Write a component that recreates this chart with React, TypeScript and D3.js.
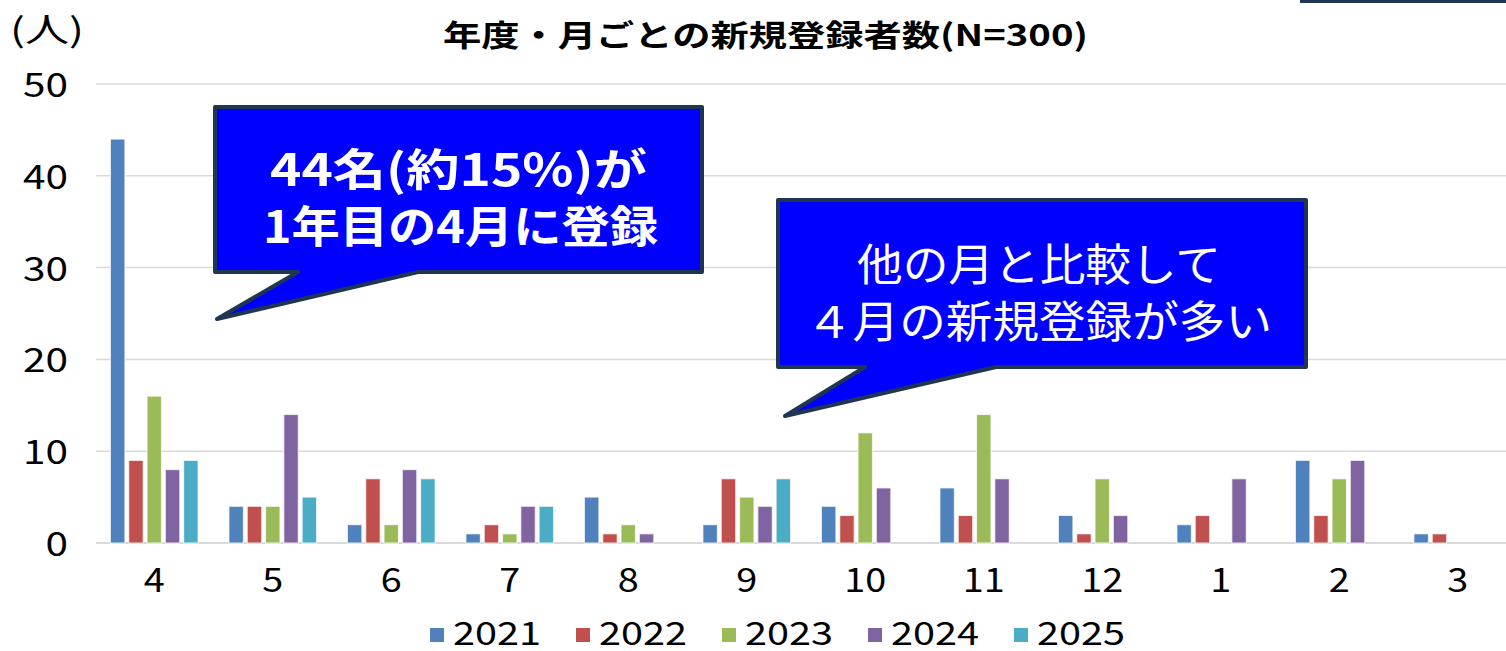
import React from "react";
import * as d3 from "d3";

const months = ["4", "5", "6", "7", "8", "9", "10", "11", "12", "1", "2", "3"];
const years = ["2021", "2022", "2023", "2024", "2025"];
const v2021 = [44, 4, 2, 1, 5, 2, 4, 6, 3, 2, 9, 1];
const v2022 = [9, 4, 7, 2, 1, 7, 3, 3, 1, 3, 3, 1];
const v2023 = [16, 4, 2, 1, 2, 5, 12, 14, 7, 0, 7, 0];
const v2024 = [8, 14, 8, 4, 1, 4, 6, 7, 3, 7, 9, 0];
const v2025 = [9, 5, 7, 4, 0, 7, 0, 0, 0, 0, 0, 0];
const yTicks = [0, 10, 20, 30, 40, 50];
const title = "年度・月ごとの新規登録者数(N=300)";
const unitLabel = "(人)";
const callout1 = ["44名(約15%)が", "1年目の4月に登録"];
const callout2 = ["他の月と比較して", "４月の新規登録が多い"];

const seriesValues = [v2021, v2022, v2023, v2024, v2025];
const colors = ["#4F81BD", "#C0504D", "#9BBB59", "#8064A2", "#4BACC6"];
const FONT = "'Noto Sans CJK JP', 'Noto Sans', sans-serif";

export default function App() {
  const W = 1506, H = 651;
  const x0 = d3.scaleBand<string>().domain(months).range([95, 1517]).paddingInner(0.26).paddingOuter(0.13);
  const x1 = d3.scaleBand<string>().domain(years).range([0, x0.bandwidth()]).paddingInner(0.208).paddingOuter(0);
  const y = d3.scaleLinear().domain([0, 50]).range([543, 84]);

  const digitW = 22.5;

  return (
    <svg width={W} height={H} style={{ position: "absolute", left: 0, top: 0, background: "#fff" }} fontFamily={FONT}>
      <rect x={0} y={0} width={W} height={H} fill="#fff" />
      {/* top-right fragment */}
      <rect x={1300} y={0} width={206} height={3} fill="#1F3552" />
      {/* gridlines */}
      {yTicks.map((t) => (
        <line key={t} x1={96} x2={W} y1={y(t)} y2={y(t)} stroke="#D9D9D9" strokeWidth={t === 0 ? 2 : 1.5} />
      ))}
      {/* y labels */}
      {yTicks.map((t) => {
        const s = String(t);
        const w = s.length * digitW;
        return (
          <text key={t} x={68 - w} y={y(t) + 13} fontSize={33} fill="#000" textLength={w} lengthAdjust="spacingAndGlyphs">
            {s}
          </text>
        );
      })}
      {/* bars */}
      {months.map((m, i) => (
        <g key={m} transform={`translate(${x0(m)},0)`}>
          {years.map((yr, j) => {
            const v = seriesValues[j][i];
            if (v <= 0) return null;
            return (
              <rect
                key={yr}
                x={x1(yr)}
                y={y(v)}
                width={x1.bandwidth()}
                height={y(0) - y(v)}
                fill={colors[j]}
                stroke="#ffffff"
                strokeOpacity={0.7}
                strokeWidth={1.2}
              />
            );
          })}
        </g>
      ))}
      {/* x labels */}
      {months.map((m) => {
        const w = m.length * 21;
        const cx = (x0(m) as number) + x0.bandwidth() / 2;
        return (
          <text key={m} x={cx - w / 2} y={592} fontSize={33} fill="#000" textLength={w} lengthAdjust="spacingAndGlyphs">
            {m}
          </text>
        );
      })}
      {/* legend */}
      {years.map((yr, j) => {
        const lx = 430 + j * 146;
        return (
          <g key={yr}>
            <rect x={lx} y={628} width={14} height={14} fill={colors[j]} />
            <text x={lx + 23} y={645} fontSize={32} fill="#000" textLength={88} lengthAdjust="spacingAndGlyphs">
              {yr}
            </text>
          </g>
        );
      })}
      {/* title */}
      <text x={443} y={46} fontSize={30} fontWeight={700} fill="#000" textLength={645} lengthAdjust="spacingAndGlyphs">
        {title}
      </text>
      <text x={10} y={42} fontSize={33} fill="#000" textLength={74} lengthAdjust="spacingAndGlyphs">
        {unitLabel}
      </text>
      {/* callout 1 */}
      <path
        d="M215,107 H702 V272 H418 L217,319 L298,272 H215 Z"
        fill="#0000FF"
        stroke="#1F3552"
        strokeWidth={4}
        strokeLinejoin="round"
      />
      <text x={270} y={186} fontSize={44} fontWeight={700} fill="#fff" textLength={377} lengthAdjust="spacingAndGlyphs">
        {callout1[0]}
      </text>
      <text x={263} y={243} fontSize={44} fontWeight={700} fill="#fff" textLength={395} lengthAdjust="spacingAndGlyphs">
        {callout1[1]}
      </text>
      {/* callout 2 */}
      <path
        d="M778,200 H1306 V367 H996 L785,416 L865,367 H778 Z"
        fill="#0000FF"
        stroke="#1F3552"
        strokeWidth={4}
        strokeLinejoin="round"
      />
      <text x={857} y={281} fontSize={44} fill="#fff" textLength={364} lengthAdjust="spacingAndGlyphs">
        {callout2[0]}
      </text>
      <text x={806} y={338} fontSize={44} fill="#fff" textLength={466} lengthAdjust="spacingAndGlyphs">
        {callout2[1]}
      </text>
    </svg>
  );
}
